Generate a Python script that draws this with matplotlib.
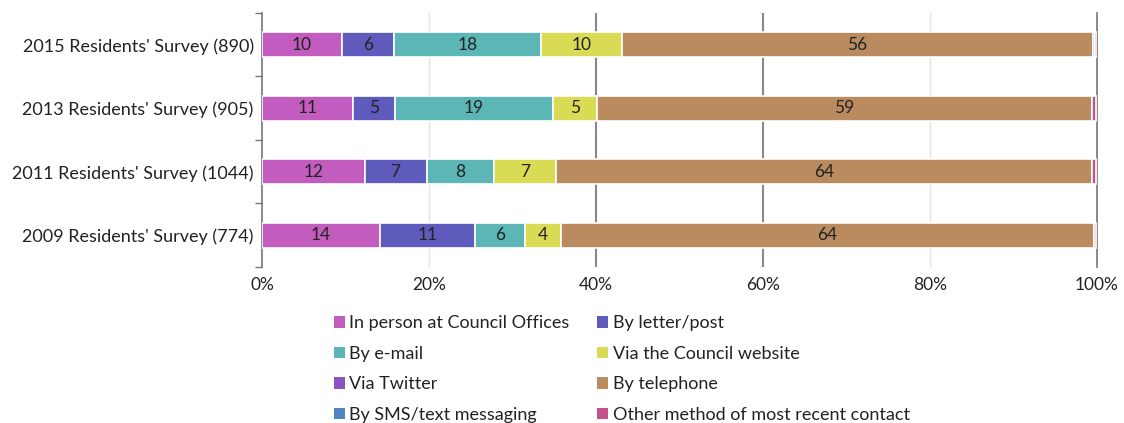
import matplotlib.pyplot as plt
from matplotlib.patches import Patch
import numpy as np

plt.rcParams['font.family'] = ['Lato', 'DejaVu Sans']

# data, top row first (as shown)
surveys = ["2015 Residents' Survey (890)", "2013 Residents' Survey (905)",
           "2011 Residents' Survey (1044)", "2009 Residents' Survey (774)"]
methods = ["In person at Council Offices", "By letter/post", "By e-mail",
           "Via the Council website", "Via Twitter", "By telephone",
           "By SMS/text messaging", "Other method of most recent contact"]

in_person = [9.6, 10.9, 12.3, 14.1]
letter = [6.2, 5.0, 7.4, 11.4]
email = [17.6, 19.0, 8.1, 6.0]
website = [9.7, 5.2, 7.4, 4.3]
telephone = [56.4, 59.3, 64.2, 63.8]
twitter = [0.0, 0.0, 0.0, 0.0]
sms = [0.3, 0.0, 0.0, 0.0]
other = [0.2, 0.5, 0.5, 0.3]

colors = {
    "In person at Council Offices": "#C25CBE",
    "By letter/post": "#5E5BBD",
    "By e-mail": "#5CB6B6",
    "Via the Council website": "#DADB55",
    "Via Twitter": "#8B52C0",
    "By telephone": "#B98B5E",
    "By SMS/text messaging": "#4F86C0",
    "Other method of most recent contact": "#C4528A",
}

# stacking order along the bar
stack = [("In person at Council Offices", in_person), ("By letter/post", letter),
         ("By e-mail", email), ("Via the Council website", website),
         ("By telephone", telephone), ("Via Twitter", twitter),
         ("By SMS/text messaging", sms), ("Other method of most recent contact", other)]

fig = plt.figure(figsize=(11.24, 4.23), dpi=100)
ax = fig.add_axes([0.2331, 0.3688, 0.7429, 0.6005])

y = np.arange(len(surveys))[::-1]
left = np.zeros(len(surveys))
for name, vals in stack:
    vals = np.array(vals)
    ax.barh(y, vals, left=left, height=0.4, color=colors[name],
            edgecolor='white', linewidth=1.2, zorder=3)
    for yi, l, v in zip(y, left, vals):
        if v >= 3:
            ax.text(l + v / 2, yi, f"{round(v):d}", ha='center', va='center',
                    fontsize=12.5, color='#222222', zorder=4)
    left += vals

ax.set_xlim(0, 100)
ax.set_ylim(-0.5, 3.5)
ax.set_xticks(np.arange(0, 101, 20))
ax.set_xticklabels([f"{v}%" for v in range(0, 101, 20)], fontsize=12.5, color='#222222')
ax.tick_params(axis='x', length=0, pad=7)
ax.set_yticks(y)
ax.set_yticklabels(surveys, fontsize=13, color='#222222')
ax.tick_params(axis='y', which='major', length=0, pad=6)
ax.set_yticks(np.arange(-0.5, 4.0, 1.0), minor=True)
ax.tick_params(axis='y', which='minor', length=5, width=1, color='#777777')

for xv in [20, 80]:
    ax.axvline(xv, color='#e2e2e2', linewidth=1, zorder=1)
for xv in [40, 60]:
    ax.axvline(xv, color='#888888', linewidth=1.5, zorder=1)

for s in ['top', 'bottom']:
    ax.spines[s].set_visible(False)
ax.spines['left'].set_color('#777777')
ax.spines['right'].set_color('#777777')
ax.spines['left'].set_linewidth(1.2)
ax.spines['right'].set_linewidth(1.2)

# legend, filled row by row
row_order = ["In person at Council Offices", "By e-mail", "Via Twitter",
             "By SMS/text messaging", "By letter/post", "Via the Council website",
             "By telephone", "Other method of most recent contact"]
handles = [Patch(facecolor=colors[m], edgecolor='none') for m in row_order]
fig.legend(handles, row_order, ncol=2, loc='upper left', bbox_to_anchor=(0.289, 0.276),
           frameon=False, fontsize=13, handlelength=0.6, handleheight=0.6,
           handletextpad=0.25, columnspacing=1.55, labelspacing=0.8, borderpad=0,
           labelcolor='#222222')

fig.savefig('out.png', dpi=100)
